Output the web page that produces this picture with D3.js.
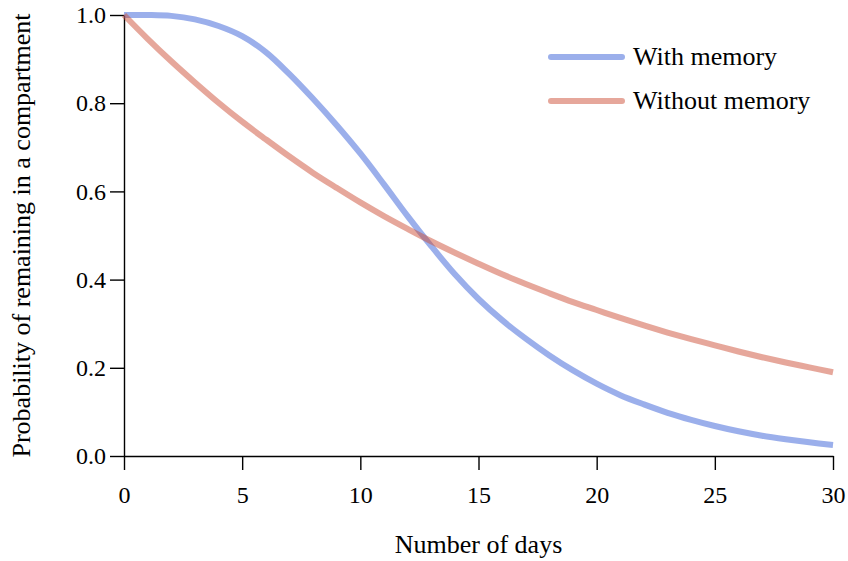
<!DOCTYPE html>
<html>
<head>
<meta charset="utf-8">
<script src="https://cdn.jsdelivr.net/npm/d3@7"></script>
<style>
  html, body { margin: 0; padding: 0; background: #fff; }
  svg { display: block; font-family: "Liberation Serif", "DejaVu Serif", serif; }
  svg text { font-family: "Liberation Serif", "DejaVu Serif", serif; }
</style>
</head>
<body>
<svg id="chart" width="848" height="561"></svg>
<script>
const days = d3.range(0, 31);
const withMemory = [1.000, 1.000, 0.998, 0.990, 0.975, 0.952, 0.916, 0.866, 0.810, 0.750,
  0.686, 0.616, 0.544, 0.476, 0.412, 0.356, 0.308, 0.266, 0.228, 0.194,
  0.164, 0.138, 0.117, 0.098, 0.082, 0.068, 0.056, 0.046, 0.038, 0.031, 0.025];
const withoutMemory = [1.000, 0.946, 0.895, 0.847, 0.801, 0.758, 0.718, 0.679, 0.642, 0.608,
  0.575, 0.544, 0.515, 0.487, 0.461, 0.436, 0.412, 0.390, 0.369, 0.349,
  0.331, 0.313, 0.296, 0.280, 0.265, 0.251, 0.237, 0.224, 0.212, 0.201, 0.190];
const seriesNames = ["With memory", "Without memory"];
const seriesColors = ["rgb(55,95,215)", "rgb(205,80,55)"];
const xTicks = [0, 5, 10, 15, 20, 25, 30];
const yTicks = [0.0, 0.2, 0.4, 0.6, 0.8, 1.0];

const svg = d3.select("#chart");
const x = d3.scaleLinear().domain([0, 30]).range([124, 833]);
const y = d3.scaleLinear().domain([0, 1]).range([456, 15]);

const xAxis = svg.append("g").attr("transform", "translate(0,456)")
  .call(d3.axisBottom(x).tickValues(xTicks).tickFormat(d3.format("d")).tickSize(14).tickSizeOuter(0).tickPadding(16));
const yAxis = svg.append("g").attr("transform", "translate(124,0)")
  .call(d3.axisLeft(y).tickValues(yTicks).tickFormat(d3.format(".1f")).tickSize(14).tickSizeOuter(0).tickPadding(4));
[xAxis, yAxis].forEach(a => {
  a.attr("font-family", null);
  a.selectAll("path, line").attr("stroke", "#000").attr("stroke-width", 1.4);
  a.selectAll("text").attr("fill", "#000")
    .style("font-size", "24px")
    .style("font-family", "'Liberation Serif', serif");
});

svg.append("text").attr("x", (x(0) + x(30)) / 2).attr("y", 553)
  .attr("text-anchor", "middle").style("font-size", "26px").text("Number of days");
svg.append("text").attr("transform", `translate(30,${(y(0) + y(1)) / 2}) rotate(-90)`)
  .attr("text-anchor", "middle").style("font-size", "26px")
  .text("Probability of remaining in a compartment");

const series = [withMemory, withoutMemory];
const line = d3.line().x((d, i) => x(days[i])).y(d => y(d)).curve(d3.curveCatmullRom.alpha(0.5));
series.forEach((vals, k) => {
  svg.append("path").datum(vals).attr("d", line)
    .attr("fill", "none").attr("stroke", seriesColors[k])
    .attr("stroke-opacity", 0.5).attr("stroke-width", 6);
});

const legend = svg.append("g");
seriesNames.forEach((name, k) => {
  const ly = 57 + k * 44;
  legend.append("line").attr("x1", 551).attr("x2", 622).attr("y1", ly).attr("y2", ly)
    .attr("stroke", seriesColors[k]).attr("stroke-opacity", 0.5)
    .attr("stroke-width", 6).attr("stroke-linecap", "round");
  legend.append("text").attr("x", 633).attr("y", ly).attr("dy", "0.3em")
    .style("font-size", "26px").text(name);
});
</script>
</body>
</html>
